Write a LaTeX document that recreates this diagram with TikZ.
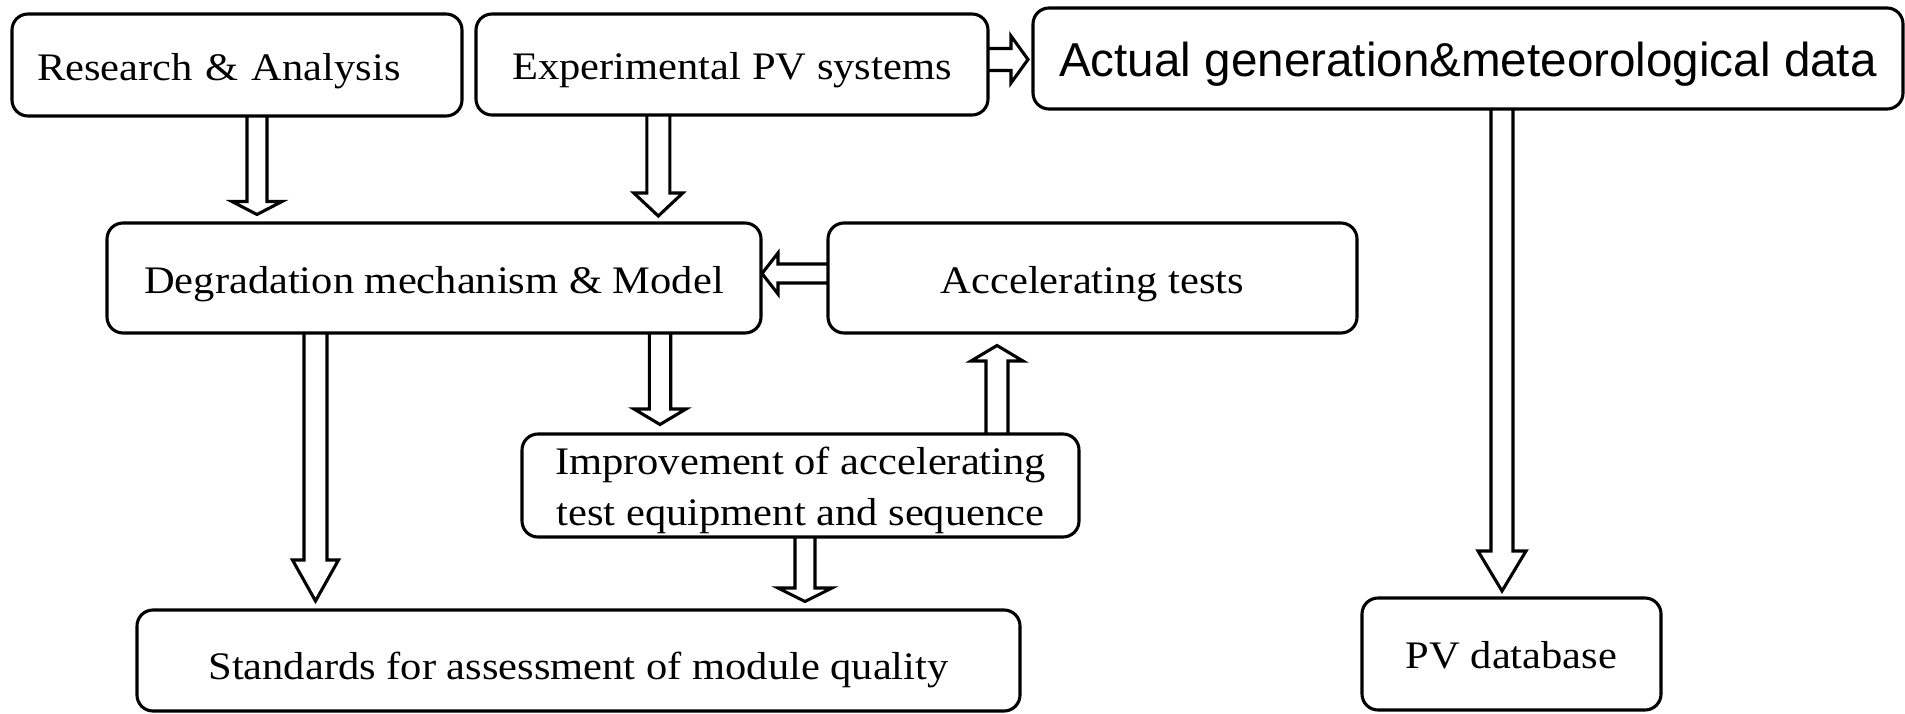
\documentclass[tikz,border=0pt]{standalone}
\usepackage{fontspec}
\setmainfont{Liberation Serif}
\newfontfamily\boxserif[FakeStretch=1.09]{Liberation Serif}
\newfontfamily\boxsans{Liberation Sans}
\usetikzlibrary{calc}

% Hollow block arrow from #1 (tail) to #2 (tip):
% #3 half shaft width, #4 half head width, #5 head length (pt)
\newcommand{\blockarrow}[5]{%
  \draw[blockline] let \p1=(#1), \p2=(#2),
      \n1={veclen(\x2-\x1,\y2-\y1)},
      \n2={(\x2-\x1)/\n1}, \n3={(\y2-\y1)/\n1},
      \n4={\n1-(#5)}
    in ({\x1-(#3)*(\n3)},{\y1+(#3)*(\n2)})
    -- ({\x1+(\n4)*(\n2)-(#3)*(\n3)},{\y1+(\n4)*(\n3)+(#3)*(\n2)})
    -- ({\x1+(\n4)*(\n2)-(#4)*(\n3)},{\y1+(\n4)*(\n3)+(#4)*(\n2)})
    -- (\p2)
    -- ({\x1+(\n4)*(\n2)+(#4)*(\n3)},{\y1+(\n4)*(\n3)-(#4)*(\n2)})
    -- ({\x1+(\n4)*(\n2)+(#3)*(\n3)},{\y1+(\n4)*(\n3)-(#3)*(\n2)})
    -- ({\x1+(#3)*(\n3)},{\y1-(#3)*(\n2)});
}

\tikzset{
  box/.style={draw, line width=3.1pt, rounded corners=16pt, outer sep=0pt,
    inner sep=0pt, align=center, font=\boxserif\fontsize{39}{51}\selectfont},
  oneline/.style={text height=31pt, text depth=0pt},
  blockline/.style={line width=3.1pt, line join=miter},
}

\begin{document}
\begin{tikzpicture}[x=1pt, y=-1pt]
\fill[white] (0,0) rectangle (1905,714);
\useasboundingbox (0,0) rectangle (1905,714);

% boxes
\node[box, oneline, minimum width=450pt, minimum height=102pt,
      text width=400pt, align=left] (ra) at (237,65) {Research \& Analysis};
\node[box, oneline, minimum width=512pt, minimum height=101pt]
      (exp) at (732,64.5) {Experimental PV systems};
\node[box, oneline, minimum width=870pt, minimum height=101pt,
      font=\boxsans\fontsize{47.6}{57}\selectfont, text height=37pt]
      (act) at (1468,58.5) {Actual generation\&meteorological data};
\node[box, oneline, minimum width=654pt, minimum height=110pt]
      (deg) at (434,278) {Degradation mechanism \& Model};
\node[box, oneline, minimum width=529pt, minimum height=110pt]
      (acc) at (1092.5,278) {Accelerating tests};
\node[box, minimum width=557pt, minimum height=103pt]
      (imp) at (800.5,485.5) {\rule{0pt}{38pt}Improvement of accelerating\\test equipment and sequence};
\node[box, oneline, text height=37pt, minimum width=883pt, minimum height=101pt]
      (std) at (578.5,660.5) {Standards for assessment of module quality};
\node[box, oneline, text height=28.6pt, minimum width=299pt, minimum height=112pt]
      (pv) at (1511.5,654) {PV database};

% arrow end points
\coordinate (t1) at ($(ra.south)+(20,0)$);
\coordinate (h1) at ($(t1 |- deg.north)+(0,-8.5)$);
\coordinate (t2) at ($(exp.south)+(-73.7,0)$);
\coordinate (h2) at ($(t2 |- deg.north)+(0,-7)$);
\coordinate (t3) at ($(exp.east)+(0,-5)$);
\coordinate (h3) at ($(t3 -| act.west)+(-5,0)$);
\coordinate (t4) at ($(act.south)+(34,0)$);
\coordinate (h4) at ($(t4 |- pv.north)+(0,-7)$);
\coordinate (t5) at ($(acc.west)+(0,-4.5)$);
\coordinate (h5) at ($(t5 -| deg.east)+(1,0)$);
\coordinate (t6) at ($(deg.south)+(226,0)$);
\coordinate (h6) at ($(t6 |- imp.north)+(0,-9.5)$);
\coordinate (t7) at ($(imp.north)+(196.5,0)$);
\coordinate (h7) at ($(t7 |- acc.south)+(0,12.5)$);
\coordinate (t8) at ($(imp.south)+(4.5,0)$);
\coordinate (h8) at ($(t8 |- std.north)+(0,-8.5)$);
\coordinate (t9) at ($(deg.south)+(-118.5,0)$);
\coordinate (h9) at ($(t9 |- std.north)+(0,-9)$);

% arrows
\blockarrow{t1}{h1}{10}{25}{13}
\blockarrow{t2}{h2}{11.5}{24.5}{23}
\blockarrow{t3}{h3}{11}{23.5}{17}
\blockarrow{t4}{h4}{11}{24}{40}
\blockarrow{t5}{h5}{9.5}{20.5}{16}
\blockarrow{t6}{h6}{10.7}{26}{15.5}
\blockarrow{t7}{h7}{11}{26}{15.5}
\blockarrow{t8}{h8}{10}{27}{13.5}
\blockarrow{t9}{h9}{11.5}{23}{41}
\end{tikzpicture}
\end{document}
